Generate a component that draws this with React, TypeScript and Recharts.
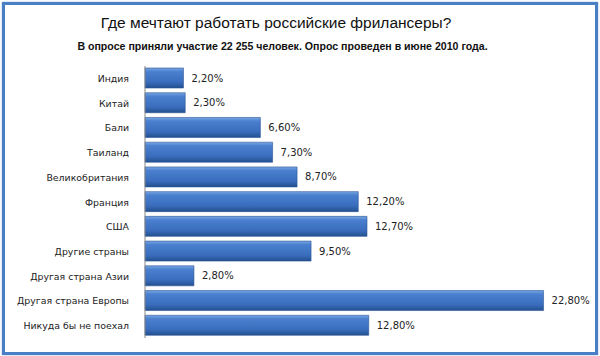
import React from 'react';
import { BarChart, Bar, XAxis, YAxis, LabelList } from 'recharts';

const countries = [
  'Индия',
  'Китай',
  'Бали',
  'Таиланд',
  'Великобритания',
  'Франция',
  'США',
  'Другие страны',
  'Другая страна Азии',
  'Другая страна Европы',
  'Никуда бы не поехал'
];

const shares = [2.2, 2.3, 6.6, 7.3, 8.7, 12.2, 12.7, 9.5, 2.8, 22.8, 12.8];

const data = countries.map((name, i) => ({ name, value: shares[i] }));

const fmt = (v: any) => `${Number(v).toFixed(2).replace('.', ',')}%`;

const CountryTick = (props: any) => {
  const { x, y, payload } = props;
  return (
    <text
      x={x}
      y={y}
      dy={3.5}
      textAnchor="end"
      fontSize={9.4}
      fill="#222"
      fontFamily='"DejaVu Sans", sans-serif'
    >
      {payload.value}
    </text>
  );
};

export default function App() {
  return (
    <div
      style={{
        position: 'fixed',
        left: 0,
        top: 0,
        width: 600,
        height: 356,
        background: '#fff',
        fontFamily: '"Liberation Sans", Arial, sans-serif'
      }}
    >
      <div
        style={{
          position: 'absolute',
          left: 2,
          top: 2,
          width: 590,
          height: 347,
          border: '3px solid #4a7fc6',
          boxShadow: '0 0 2px #9fbbe0'
        }}
      />
      <div
        style={{
          position: 'absolute',
          left: 0,
          width: 552,
          top: 14,
          textAlign: 'center',
          fontSize: 15.5,
          color: '#111'
        }}
      >
        Где мечтают работать российские фрилансеры?
      </div>
      <div
        style={{
          position: 'absolute',
          left: 0,
          width: 565,
          top: 40,
          textAlign: 'center',
          fontSize: 10.6,
          fontWeight: 'bold',
          color: '#111'
        }}
      >
        В опросе приняли участие 22 255 человек. Опрос проведен в июне 2010 года.
      </div>
      <div style={{ position: 'absolute', left: 0, top: 0 }}>
        <BarChart
          width={600}
          height={356}
          data={data}
          layout="vertical"
          margin={{ top: 66, right: 18, bottom: 18, left: 5 }}
          barSize={20}
        >
          <defs>
            <linearGradient id="barFill" x1="0" y1="0" x2="0" y2="1">
              <stop offset="0%" stopColor="#7aa7e3" />
              <stop offset="18%" stopColor="#4a80cf" />
              <stop offset="70%" stopColor="#3a6dbd" />
              <stop offset="100%" stopColor="#23508f" />
            </linearGradient>
          </defs>
          <XAxis type="number" domain={[0, 25]} hide />
          <YAxis
            type="category"
            dataKey="name"
            width={140}
            tickLine={false}
            axisLine={{ stroke: '#888' }}
            tickMargin={10}
            tick={<CountryTick />}
            interval={0}
          />
          <Bar
            dataKey="value"
            fill="url(#barFill)"
            stroke="#2a5495"
            strokeWidth={0.6}
            isAnimationActive={false}
          >
            <LabelList
              dataKey="value"
              position="right"
              offset={8}
              formatter={fmt}
              style={{ fontSize: 10, fill: '#222', fontFamily: '"DejaVu Sans", sans-serif' }}
            />
          </Bar>
        </BarChart>
      </div>
    </div>
  );
}
